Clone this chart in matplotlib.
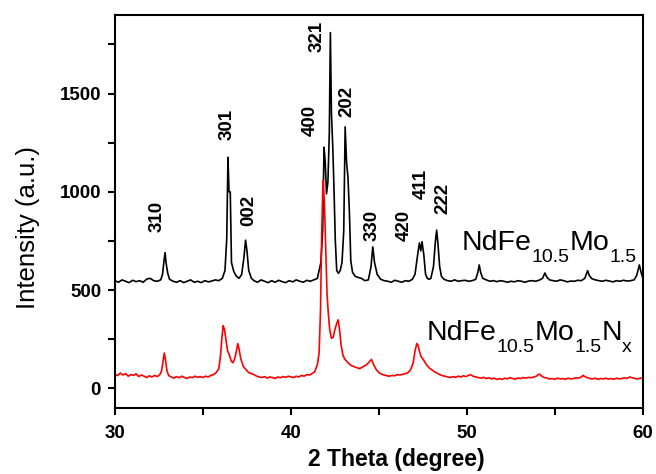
import matplotlib
matplotlib.use("Agg")
import matplotlib.pyplot as plt
import matplotlib.transforms as mtransforms

plt.rcParams['font.family'] = ['Liberation Sans', 'DejaVu Sans']

# NdFe10.5Mo1.5 (black)
x_black = [30.0, 30.2, 30.4, 30.6, 30.8, 31.0, 31.2, 31.4, 31.6, 31.8, 32.0, 32.2, 32.4, 32.6, 32.7, 32.8, 32.85, 32.9, 33.0, 33.1,
           33.3, 33.5, 33.7, 33.9, 34.1, 34.3, 34.5, 34.7, 34.9, 35.1, 35.3, 35.5, 35.7, 35.9, 36.1, 36.25, 36.35, 36.42, 36.48, 36.55,
           36.62, 36.75, 36.9, 37.05, 37.2, 37.32, 37.42, 37.5, 37.6, 37.75, 37.9, 38.1, 38.3, 38.5, 38.7, 38.9, 39.1, 39.3, 39.5, 39.7,
           39.9, 40.1, 40.3, 40.5, 40.7, 40.9, 41.1, 41.3, 41.5, 41.6, 41.7, 41.8, 41.88, 41.95, 42.02, 42.1, 42.18, 42.24, 42.3, 42.38,
           42.45, 42.52, 42.6, 42.7, 42.8, 42.9, 43.0, 43.08, 43.16, 43.24, 43.32, 43.4, 43.5, 43.65, 43.8, 44.0, 44.2, 44.4, 44.55, 44.65,
           44.75, 44.9, 45.1, 45.3, 45.5, 45.7, 45.9, 46.1, 46.3, 46.5, 46.7, 46.9, 47.05, 47.2, 47.3, 47.38, 47.45, 47.55, 47.65, 47.75,
           47.85, 47.95, 48.1, 48.2, 48.28, 48.35, 48.45, 48.55, 48.7, 48.9, 49.1, 49.3, 49.5, 49.7, 49.9, 50.1, 50.3, 50.5, 50.62, 50.7,
           50.78, 50.9, 51.1, 51.3, 51.5, 51.7, 51.9, 52.1, 52.3, 52.5, 52.7, 52.9, 53.1, 53.3, 53.5, 53.7, 53.9, 54.1, 54.3, 54.43,
           54.55, 54.7, 54.9, 55.1, 55.3, 55.5, 55.7, 55.9, 56.1, 56.3, 56.5, 56.7, 56.86, 56.95, 57.1, 57.3, 57.5, 57.7, 57.9, 58.1,
           58.3, 58.5, 58.7, 58.9, 59.1, 59.3, 59.5, 59.65, 59.8, 59.9, 60.0]
y_black = [548, 540, 552, 545, 538, 550, 543, 548, 540, 556, 560, 548, 545, 552, 580, 660, 690, 640, 585, 555,
           545, 540, 548, 538, 545, 552, 540, 545, 538, 548, 542, 546, 552, 548, 560, 600, 760, 1176, 1000, 1000,
           640, 595, 570, 560, 580, 660, 754, 700, 600, 560, 548, 540, 552, 545, 538, 548, 540, 550, 543, 538,
           548, 542, 552, 545, 540, 550, 545, 552, 560, 600, 640, 800, 1227, 1150, 990, 1050, 1300, 1810, 1400, 1220,
           1000, 754, 600, 585, 600, 640, 800, 1331, 1150, 1075, 900, 650, 590, 570, 565, 560, 548, 552, 620, 720,
           640, 580, 555, 548, 545, 540, 550, 545, 540, 548, 545, 555, 580, 680, 740, 700, 746, 680, 580, 560,
           555, 560, 620, 740, 805, 740, 620, 570, 555, 548, 545, 552, 545, 548, 550, 545, 548, 555, 590, 628,
           590, 560, 552, 545, 548, 543, 548, 545, 540, 545, 542, 548, 545, 540, 546, 548, 545, 550, 560, 587,
           565, 552, 548, 545, 552, 548, 542, 546, 545, 550, 548, 560, 599, 575, 558, 552, 548, 545, 550, 546,
           542, 548, 545, 550, 546, 548, 552, 575, 628, 590, 560]

# NdFe10.5Mo1.5Nx (red)
x_red = [30.0, 30.15, 30.3, 30.45, 30.6, 30.75, 30.9, 31.05, 31.2, 31.35, 31.5, 31.65, 31.8, 31.95, 32.1, 32.25, 32.4, 32.55, 32.65, 32.75,
         32.8, 32.88, 32.95, 33.05, 33.2, 33.35, 33.5, 33.65, 33.8, 33.95, 34.1, 34.25, 34.4, 34.55, 34.7, 34.85, 35.0, 35.15, 35.3, 35.45,
         35.6, 35.75, 35.9, 36.0, 36.08, 36.15, 36.22, 36.3, 36.4, 36.5, 36.6, 36.7, 36.8, 36.9, 36.98, 37.05, 37.15, 37.3, 37.45, 37.6,
         37.75, 37.9, 38.05, 38.2, 38.35, 38.5, 38.65, 38.8, 38.95, 39.1, 39.25, 39.4, 39.55, 39.7, 39.85, 40.0, 40.15, 40.3, 40.45, 40.6,
         40.75, 40.9, 41.05, 41.2, 41.35, 41.5, 41.6, 41.68, 41.75, 41.82, 41.9, 41.98, 42.05, 42.12, 42.2, 42.3, 42.4, 42.5, 42.6, 42.68,
         42.76, 42.85, 42.95, 43.05, 43.15, 43.3, 43.45, 43.6, 43.75, 43.9, 44.05, 44.2, 44.35, 44.5, 44.58, 44.7, 44.85, 45.0, 45.15, 45.3,
         45.45, 45.6, 45.75, 45.9, 46.05, 46.2, 46.35, 46.5, 46.65, 46.8, 46.95, 47.05, 47.15, 47.22, 47.3, 47.4, 47.5, 47.6, 47.7, 47.85,
         48.0, 48.15, 48.3, 48.45, 48.6, 48.75, 48.9, 49.05, 49.2, 49.35, 49.5, 49.65, 49.8, 49.95, 50.1, 50.2, 50.35, 50.5, 50.65, 50.8,
         50.95, 51.1, 51.25, 51.4, 51.55, 51.7, 51.85, 52.0, 52.15, 52.3, 52.45, 52.6, 52.75, 52.9, 53.05, 53.2, 53.35, 53.5, 53.65, 53.8,
         53.95, 54.05, 54.15, 54.25, 54.4, 54.55, 54.7, 54.85, 55.0, 55.15, 55.3, 55.45, 55.6, 55.75, 55.9, 56.05, 56.2, 56.35, 56.5, 56.6,
         56.7, 56.85, 57.0, 57.15, 57.3, 57.45, 57.6, 57.75, 57.9, 58.05, 58.2, 58.35, 58.5, 58.65, 58.8, 58.95, 59.1, 59.25, 59.4, 59.55,
         59.7, 59.85, 60.0]
y_red = [72, 65, 78, 68, 75, 62, 70, 66, 74, 60, 68, 62, 55, 64, 58, 66, 60, 70, 90, 150,
         180, 140, 90, 65, 58, 52, 60, 54, 62, 55, 50, 58, 54, 62, 56, 60, 55, 62, 58, 66,
         70, 80, 100, 170, 260, 319, 300, 250, 190, 170, 140, 130, 150, 190, 228, 200, 150, 110, 95, 80,
         75, 70, 62, 58, 55, 60, 52, 58, 55, 50, 58, 54, 60, 56, 62, 58, 55, 62, 58, 66,
         62, 70, 68, 75, 85, 120, 180, 400, 800, 1060, 950, 700, 480, 385, 300, 255, 260, 300, 330, 349,
         300, 220, 170, 150, 140, 125, 115, 110, 105, 100, 108, 115, 125, 140, 147, 120, 95, 80, 72, 68,
         64, 62, 66, 64, 70, 68, 72, 75, 80, 95, 130, 190, 228, 220, 190, 160, 150, 135, 120, 105,
         95, 85, 78, 70, 65, 62, 58, 55, 60, 56, 62, 58, 64, 60, 66, 70, 62, 58, 55, 52,
         56, 50, 54, 48, 52, 45, 50, 46, 52, 48, 55, 50, 47, 53, 50, 55, 52, 56, 54, 58,
         62, 70, 72, 62, 55, 52, 48, 50, 46, 52, 48, 50, 46, 52, 48, 50, 54, 52, 58, 66,
         60, 54, 50, 48, 52, 46, 50, 48, 52, 47, 50, 46, 52, 48, 50, 54, 50, 58, 54, 50,
         48, 52, 50]

# peak labels (hkl, x position, y center)
hkl_labels = ['310', '301', '002', '400', '321', '202', '330', '420', '411', '222']
hkl_x = [32.4, 36.35, 37.6, 41.1, 41.5, 43.2, 44.6, 46.45, 47.4, 48.65]
hkl_y = [875, 1345, 905, 1365, 1790, 1460, 830, 830, 1040, 965]

# sample names, split into (text, is_subscript)
name_black = [('NdFe', False), ('10.5', True), ('Mo', False), ('1.5', True)]
name_red = [('NdFe', False), ('10.5', True), ('Mo', False), ('1.5', True), ('N', False), ('x', True)]

fig = plt.figure(figsize=(6.56, 4.74), dpi=100)
ax = fig.add_axes([0.1753, 0.1392, 0.8047, 0.8292])

ax.plot(x_black, y_black, color='black', lw=1.2)
ax.plot(x_red, y_red, color='red', lw=1.2)

for lab, hx, hy in zip(hkl_labels, hkl_x, hkl_y):
    ax.text(hx, hy, lab, rotation=90, ha='center', va='center', fontsize=13.5, fontweight='bold')


def chem_label(x, y, parts, size=20.5, subsize=14, drop=12):
    r = fig.canvas.get_renderer()
    dx = 0
    for s, sub in parts:
        tr = mtransforms.offset_copy(ax.transData, fig=fig, x=dx, y=-drop if sub else 0, units='dots')
        t = ax.text(x, y, s, transform=tr, fontsize=subsize if sub else size, ha='left', va='baseline')
        dx += t.get_window_extent(renderer=r).width


chem_label(49.7, 703, name_black)
chem_label(47.7, 246, name_red)

ax.set_xlim(30, 60)
ax.set_ylim(-100, 1900)
ax.set_xticks([30, 40, 50, 60])
ax.set_xticks([35, 45, 55], minor=True)
ax.set_yticks([0, 500, 1000, 1500])
ax.set_yticks([250, 750, 1250, 1750], minor=True)
ax.tick_params(which='both', direction='out', length=5, width=1.5, top=False, right=False)
ax.tick_params(axis='x', pad=7)
ax.tick_params(axis='y', pad=5)
for t in ax.get_xticklabels() + ax.get_yticklabels():
    t.set_fontweight('bold')
    t.set_fontsize(13.5)
for s in ax.spines.values():
    s.set_linewidth(1.5)

ax.set_xlabel('2 Theta (degree)', fontsize=16.5, fontweight='bold')
ax.xaxis.set_label_coords(0.533, -0.102)
ax.set_ylabel('Intensity (a.u.)', fontsize=18.5)
ax.yaxis.set_label_coords(-0.142, 0.46)

fig.savefig('out.png', dpi=100)
